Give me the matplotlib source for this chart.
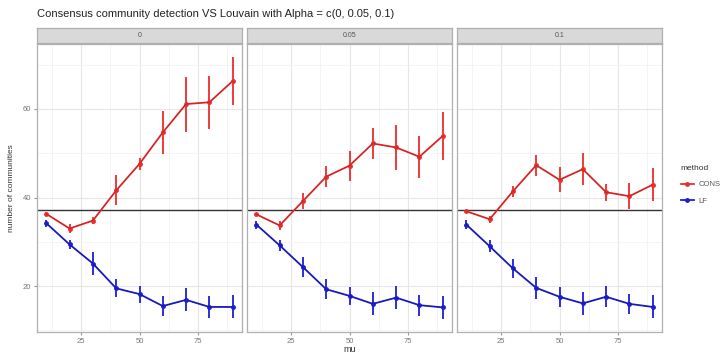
"""
plot.py

Consensus community detection vs Louvain, faceted by alpha.
"""
import numpy as np
import matplotlib
matplotlib.use("Agg")
import matplotlib.pyplot as plt
from matplotlib.lines import Line2D

plt.rcParams['font.family'] = ['Liberation Sans', 'DejaVu Sans']

mu = [10, 20, 30, 40, 50, 60, 70, 80, 90]
alphas = ["0", "0.05", "0.1"]
methods = ["CONS", "LF"]
true_communities = 37.1

# mean number of communities per panel (alpha = 0, 0.05, 0.1)
cons_mean = [
    [36.3, 33.0, 34.8, 41.6, 47.6, 54.7, 61.1, 61.5, 66.3],
    [36.2, 33.7, 39.2, 44.7, 47.2, 52.2, 51.3, 49.2, 53.9],
    [36.9, 35.1, 41.4, 47.3, 44.0, 46.4, 41.2, 40.3, 42.9],
]
cons_err = [
    [0.4, 1.1, 0.8, 3.4, 1.3, 4.9, 6.2, 6.0, 5.4],
    [0.3, 1.1, 1.9, 2.4, 3.4, 3.4, 5.0, 4.7, 5.4],
    [0.3, 0.8, 1.3, 2.4, 2.8, 3.6, 1.9, 3.0, 3.7],
]
lf_mean = [
    [34.2, 29.4, 25.1, 19.5, 18.2, 15.5, 16.9, 15.3, 15.3],
    [33.9, 29.2, 24.3, 19.3, 17.8, 16.0, 17.4, 15.7, 15.2],
    [33.9, 29.0, 24.0, 19.6, 17.6, 16.1, 17.6, 16.0, 15.3],
]
lf_err = [
    [0.8, 1.1, 2.6, 2.0, 1.9, 2.2, 2.6, 2.4, 2.6],
    [0.9, 1.3, 2.2, 2.2, 2.0, 2.6, 2.6, 2.4, 2.6],
    [1.0, 1.3, 2.2, 2.4, 2.2, 2.6, 2.4, 2.2, 2.6],
]

RED = '#EE2C2C'
BLUE = '#1E1ED8'
W, H = 728, 357

fig = plt.figure(figsize=(W / 100, H / 100), dpi=100)

# shared y range like ggplot (5% expansion)
lo = min(np.min(np.array(lf_mean) - np.array(lf_err)), np.min(np.array(cons_mean) - np.array(cons_err)))
hi = max(np.max(np.array(lf_mean) + np.array(lf_err)), np.max(np.array(cons_mean) + np.array(cons_err)))
pad = (hi - lo) * 0.05
ylim = (lo - pad, hi + pad)
xlim = (mu[0] - 0.05 * (mu[-1] - mu[0]), mu[-1] + 0.05 * (mu[-1] - mu[0]))

panel_left = [37, 247, 457]
panel_w = 205
panel_top, panel_bot = 44, 332
strip_top = 28

for i, alpha in enumerate(alphas):
    ax = fig.add_axes([panel_left[i] / W, (H - panel_bot) / H, panel_w / W, (panel_bot - panel_top) / H])
    ax.set_xlim(xlim)
    ax.set_ylim(ylim)
    ax.set_xticks([25, 50, 75])
    ax.set_xticks([12.5, 37.5, 62.5, 87.5], minor=True)
    ax.set_yticks([20, 40, 60])
    ax.set_yticks([10, 30, 50, 70], minor=True)
    ax.grid(which='major', color='#E6E6E6', lw=0.8)
    ax.grid(which='minor', color='#F3F3F3', lw=0.6)
    ax.set_axisbelow(True)
    for s in ax.spines.values():
        s.set_color('#B0B0B0')
        s.set_linewidth(0.9)
    ax.tick_params(which='major', length=2.5, color='#999999', labelsize=5.5, labelcolor='#777777', pad=1.5)
    ax.tick_params(which='minor', length=0)
    if i > 0:
        ax.tick_params(axis='y', labelleft=False, length=0)

    ax.axhline(true_communities, color='#333333', lw=1.0, zorder=1)

    ax.errorbar(mu, cons_mean[i], yerr=cons_err[i], color=RED, lw=1.3, elinewidth=1.3,
                capsize=0, marker='o', ms=2.5, zorder=3)
    ax.errorbar(mu, lf_mean[i], yerr=lf_err[i], color=BLUE, lw=1.3, elinewidth=1.3,
                capsize=0, marker='o', ms=2.5, zorder=3)
    ax.plot(mu, cons_mean[i], color='#802020', lw=0.5, alpha=0.5, zorder=4)
    ax.plot(mu, lf_mean[i], color='#101060', lw=0.5, alpha=0.5, zorder=4)

    # facet strip
    sax = fig.add_axes([panel_left[i] / W, (H - panel_top + 1) / H, panel_w / W, (panel_top - 1 - strip_top) / H])
    sax.set_facecolor('#D9D9D9')
    sax.set_xticks([])
    sax.set_yticks([])
    for s in sax.spines.values():
        s.set_color('#B0B0B0')
        s.set_linewidth(0.9)
    sax.text(0.5, 0.5, alpha, ha='center', va='center', fontsize=5, color='#555555', transform=sax.transAxes)

fig.text(37 / W, 1 - 14 / H, "Consensus community detection VS Louvain with Alpha = c(0, 0.05, 0.1)",
         fontsize=8, color='#222222', va='center', ha='left')
fig.text(350 / W, 1 - 349 / H, "mu", fontsize=6.5, color='#333333', ha='center', va='center')
fig.text(12 / W, 1 - 188 / H, "number of communities", fontsize=6, color='#333333',
         rotation=90, ha='center', va='center')

handles = [Line2D([], [], color=RED, marker='o', ms=2.5, lw=1.3),
           Line2D([], [], color=BLUE, marker='o', ms=2.5, lw=1.3)]
leg = fig.legend(handles, methods, title="method", loc='upper left',
                 bbox_to_anchor=(674 / W, 1 - 158 / H), frameon=False, fontsize=5.5,
                 title_fontsize=6, handlelength=1.7, handletextpad=0.6, labelspacing=1.2,
                 alignment='left')
leg.get_title().set_color('#333333')
for t in leg.get_texts():
    t.set_color('#555555')

plt.savefig("out.png", dpi=100)
plt.close(fig)
